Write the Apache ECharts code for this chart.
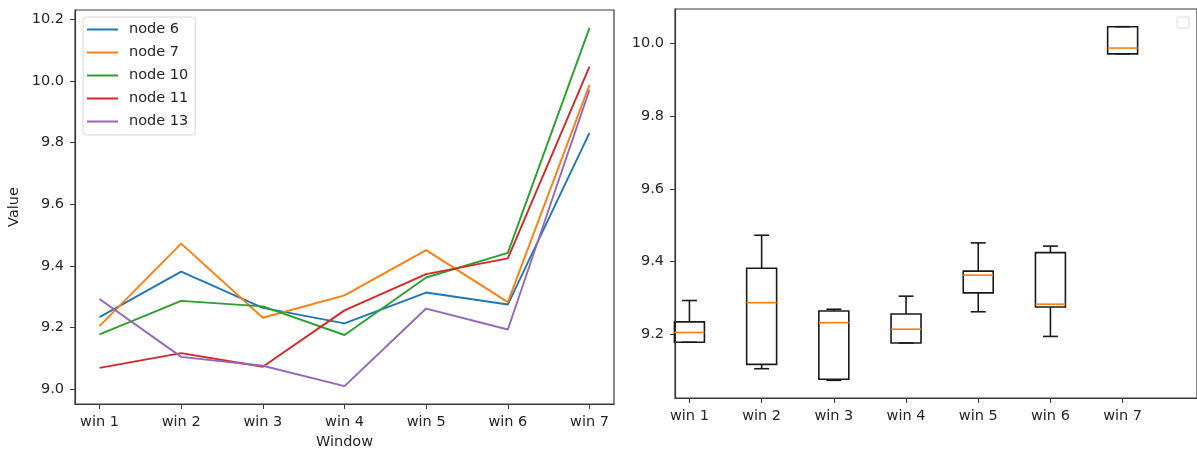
<!DOCTYPE html>
<html><head><meta charset="utf-8">
<script src="https://cdn.jsdelivr.net/npm/echarts@6/dist/echarts.min.js"></script>
<style>html,body{margin:0;padding:0;background:#fff}#c{width:1197px;height:455px}</style>
</head><body><div id="c"></div>
<script>
const categories = ['win 1', 'win 2', 'win 3', 'win 4', 'win 5', 'win 6', 'win 7'];
const seriesNames = ['node 6', 'node 7', 'node 10', 'node 11', 'node 13'];
const node6  = [9.233, 9.381, 9.263, 9.213, 9.313, 9.274, 9.832];
const node7  = [9.204, 9.472, 9.231, 9.304, 9.451, 9.282, 9.988];
const node10 = [9.177, 9.286, 9.268, 9.175, 9.362, 9.442, 10.173];
const node11 = [9.068, 9.116, 9.072, 9.255, 9.373, 9.424, 10.047];
const node13 = [9.292, 9.104, 9.075, 9.009, 9.261, 9.193, 9.972];
const leftYTicks = [9.0, 9.2, 9.4, 9.6, 9.8, 10.0, 10.2];
const rightYTicks = [9.2, 9.4, 9.6, 9.8, 10.0];

const colors = ['#1f77b4', '#ff7f0e', '#2ca02c', '#d62728', '#9467bd'];
const allNodes = [node6, node7, node10, node11, node13];
const positions = categories.map((c, i) => i + 1);

// matplotlib-style box statistics (linear quartiles, 1.5 IQR whiskers)
function boxStats(vals) {
  const s = vals.slice().sort((a, b) => a - b);
  const q = p => { const h = (s.length - 1) * p, lo = Math.floor(h);
    const nx = lo + 1 < s.length ? s[lo + 1] : s[lo]; return s[lo] + (h - lo) * (nx - s[lo]); };
  const q1 = q(0.25), med = q(0.5), q3 = q(0.75), iqr = q3 - q1;
  const lo = Math.min(...s.filter(v => v >= q1 - 1.5 * iqr));
  const hi = Math.max(...s.filter(v => v <= q3 + 1.5 * iqr));
  return [lo, q1, med, q3, hi];
}
const boxData = categories.map((c, i) => [positions[i]].concat(boxStats(allNodes.map(n => n[i]))));

// matplotlib-like 5% margins
const flat = allNodes.flat();
const lMin = Math.min(...flat), lMax = Math.max(...flat), lR = lMax - lMin;
const bLo = Math.min(...boxData.map(d => d[1])), bHi = Math.max(...boxData.map(d => d[5])), bR = bHi - bLo;

const FONT = 'DejaVu Sans';
const TXT = '#262626';
const AX = '#3a3a3a';
const FS = 14.5;
const lbl = { color: TXT, fontSize: FS, fontFamily: FONT };

const chart = echarts.init(document.getElementById('c'), null, { renderer: 'canvas' });
chart.setOption({
  animation: false,
  backgroundColor: '#fff',
  grid: [
    { left: 75, top: 10, width: 539, height: 395, show: true, borderColor: AX, borderWidth: 1.2, backgroundColor: 'transparent' },
    { left: 675, top: 9, width: 522, height: 389, show: true, borderColor: AX, borderWidth: 1.2, backgroundColor: 'transparent' }
  ],
  legend: {
    data: seriesNames, orient: 'vertical', left: 83, top: 17,
    itemWidth: 31, itemHeight: 2, itemGap: 8, icon: 'rect',
    padding: [5, 7, 6, 4], backgroundColor: '#fff', borderColor: '#d6d6d6', borderWidth: 1, borderRadius: 3,
    textStyle: { color: TXT, fontSize: FS, fontFamily: FONT, padding: [0, 0, 0, 6] }
  },
  xAxis: [
    { gridIndex: 0, type: 'value', min: 1 - 0.05 * 6, max: 7 + 0.05 * 6,
      name: 'Window', nameLocation: 'middle', nameGap: 31, nameTextStyle: lbl,
      axisLine: { show: true, onZero: false, lineStyle: { color: AX, width: 1.2 } },
      axisTick: { show: true, length: 5, customValues: positions, lineStyle: { color: AX } },
      axisLabel: { ...lbl, margin: 11, customValues: positions, formatter: v => categories[Math.round(v) - 1] || '' },
      splitLine: { show: false } },
    { gridIndex: 1, type: 'value', min: 0.8, max: 8.03,
      axisLine: { show: true, onZero: false, lineStyle: { color: AX, width: 1.2 } },
      axisTick: { show: true, length: 5, customValues: positions, lineStyle: { color: AX } },
      axisLabel: { ...lbl, margin: 11, customValues: positions, formatter: v => categories[Math.round(v) - 1] || '' },
      splitLine: { show: false } }
  ],
  yAxis: [
    { gridIndex: 0, type: 'value', min: lMin - 0.05 * lR, max: lMax + 0.05 * lR,
      name: 'Value', nameLocation: 'middle', nameGap: 53, nameRotate: 90, nameTextStyle: lbl,
      axisLine: { show: true, onZero: false, lineStyle: { color: AX, width: 1.2 } },
      axisTick: { show: true, length: 5, customValues: leftYTicks, lineStyle: { color: AX } },
      axisLabel: { ...lbl, margin: 11, customValues: leftYTicks, formatter: v => v.toFixed(1) },
      splitLine: { show: false } },
    { gridIndex: 1, type: 'value', min: bLo - 0.05 * bR, max: bHi + 0.05 * bR,
      axisLine: { show: true, onZero: false, lineStyle: { color: AX, width: 1.2 } },
      axisTick: { show: true, length: 5, customValues: rightYTicks, lineStyle: { color: AX } },
      axisLabel: { ...lbl, margin: 11, customValues: rightYTicks, formatter: v => v.toFixed(1) },
      splitLine: { show: false } }
  ],
  series: allNodes.map((arr, k) => ({
    type: 'line', name: seriesNames[k], xAxisIndex: 0, yAxisIndex: 0,
    data: arr.map((v, i) => [positions[i], v]),
    symbol: 'none', color: colors[k], lineStyle: { width: 1.9, color: colors[k] }
  })).concat([{
    type: 'custom', name: 'box', xAxisIndex: 1, yAxisIndex: 1,
    encode: { x: 0, y: [1, 2, 3, 4, 5] },
    data: boxData,
    renderItem: function (params, api) {
      const x = api.value(0);
      const ys = [1, 2, 3, 4, 5].map(i => api.coord([x, api.value(i)])[1]);
      const cx = api.coord([x, api.value(1)])[0];
      const bw = api.size([0.415, 0])[0];
      const h = bw / 2, c = bw / 4;
      const [pMin, pQ1, pMed, pQ3, pMax] = ys;
      const st = { stroke: '#1a1a1a', lineWidth: 1.6, fill: null };
      return { type: 'group', children: [
        { type: 'line', shape: { x1: cx, y1: pQ1, x2: cx, y2: pMin }, style: st },
        { type: 'line', shape: { x1: cx, y1: pQ3, x2: cx, y2: pMax }, style: st },
        { type: 'line', shape: { x1: cx - c, y1: pMin, x2: cx + c, y2: pMin }, style: st },
        { type: 'line', shape: { x1: cx - c, y1: pMax, x2: cx + c, y2: pMax }, style: st },
        { type: 'rect', shape: { x: cx - h, y: pQ3, width: bw, height: pQ1 - pQ3 }, style: { stroke: '#1a1a1a', lineWidth: 1.6, fill: 'rgba(0,0,0,0)' } },
        { type: 'line', shape: { x1: cx - h, y1: pMed, x2: cx + h, y2: pMed }, style: { stroke: '#ff7f0e', lineWidth: 1.6 } }
      ] };
    }
  }]),
  graphic: [
    { type: 'rect', shape: { x: 1177, y: 17, width: 12, height: 11, r: 2 }, style: { fill: '#fff', stroke: '#dcdcdc', lineWidth: 1 } }
  ]
});
</script>
</body></html>
